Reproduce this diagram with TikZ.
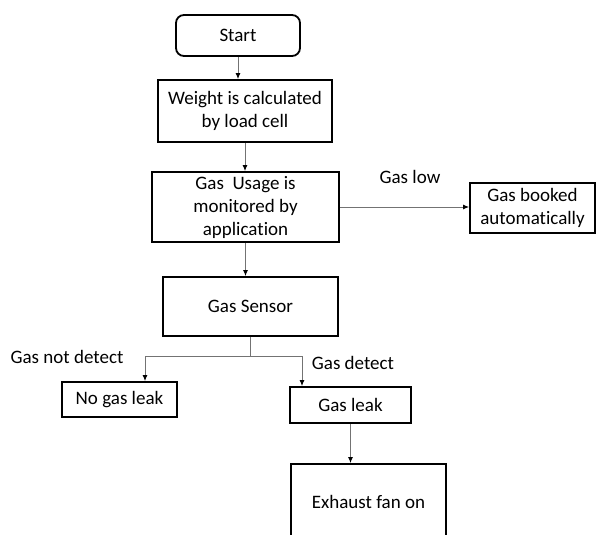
\documentclass[tikz,border=0pt]{standalone}
\usepackage{fontspec}
\setmainfont{Carlito}[Ligatures=NoCommon]
\usetikzlibrary{arrows.meta}
\begin{document}
\begin{tikzpicture}[x=1pt,y=-1pt,
  box/.style={draw=black,line width=1.8pt,align=center,inner sep=0pt,
    font=\fontsize{19}{23}\selectfont},
  lbl/.style={font=\fontsize{19}{23}\selectfont,inner sep=0pt},
  arr/.style={draw=black!55,line width=1pt,-{Latex[length=6pt,width=5pt,black]}},
  ln/.style={draw=black!55,line width=1pt}]
\clip (0,0) rectangle (600,535);
\fill[white] (0,0) rectangle (600,535);
\node[box,rounded corners=8pt,minimum width=124pt,minimum height=41pt] (start) at (238,35.5) {Start};
\node[box,minimum width=174pt,minimum height=62pt] (weight) at (245,111) {Weight is calculated\\by load cell};
\node[box,minimum width=187pt,minimum height=70pt] (usage) at (245.5,207) {Gas\ \ Usage is\\monitored by\\application};
\node[box,minimum width=125pt,minimum height=50pt] (booked) at (532.5,208) {Gas booked\\automatically};
\node[box,minimum width=175pt,minimum height=59pt] (sensor) at (250.5,306.5) {Gas Sensor};
\node[box,minimum width=115pt,minimum height=35pt] (nogas) at (119.5,399.5) {No gas leak};
\node[box,minimum width=121pt,minimum height=36pt] (leak) at (350.5,405) {Gas leak};
\node[box,minimum width=155pt,minimum height=76pt] (fan) at (368.5,502) {Exhaust fan on};
\node[lbl] (lgaslow) at (410,177) {Gas low};
\node[lbl] (lnot) at (67,357) {Gas not detect};
\node[lbl] (ldet) at (353,363) {Gas detect};
\coordinate (jl) at (145,356);
\coordinate (jr) at (302,356);
\draw[arr] (start.south) -- (start.south |- weight.north);
\draw[arr] (weight.south) -- (weight.south |- usage.north);
\draw[arr] (usage.east) -- (usage.east -| booked.west);
\draw[arr] (usage.south) -- (usage.south |- sensor.north);
\draw[arr] (sensor.south) |- (jl) -- (jl |- nogas.north);
\draw[arr] (sensor.south) |- (jr) -- (jr |- leak.north);
\draw[arr] (leak.south) -- (leak.south |- fan.north);
\end{tikzpicture}
\end{document}
